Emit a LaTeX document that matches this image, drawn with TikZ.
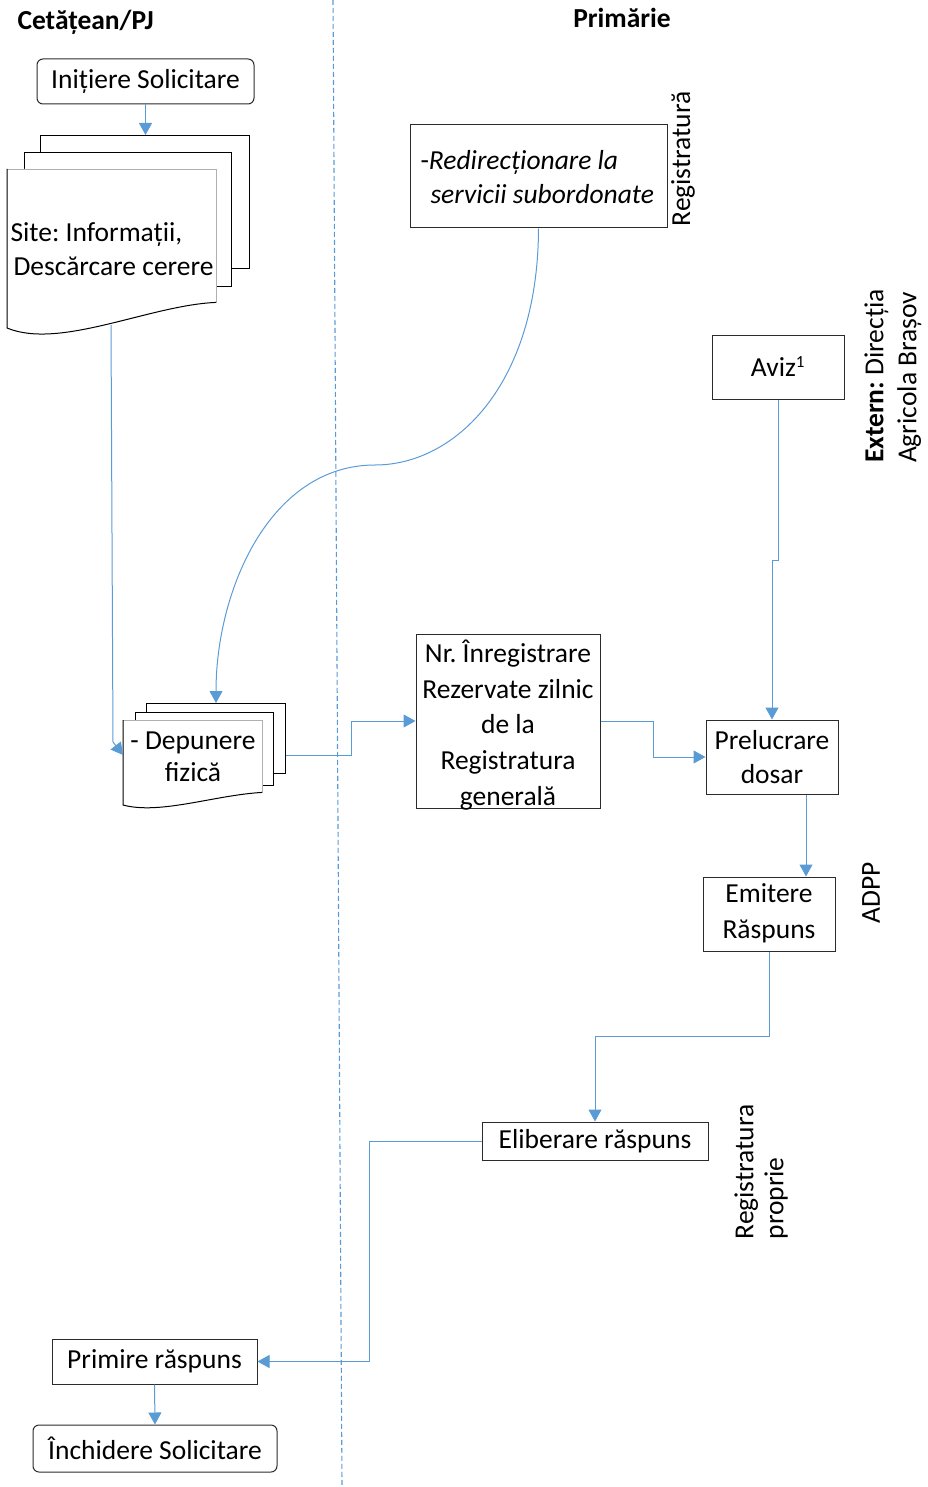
\documentclass[tikz,border=0pt]{standalone}
\usepackage{fontspec}
\setmainfont{Carlito}
\frenchspacing
\usetikzlibrary{arrows.meta,calc}
\definecolor{flow}{HTML}{5B9BD5}
\definecolor{edge}{HTML}{2B2B2B}
\definecolor{softedge}{HTML}{B0B0B0}

\begin{document}
\begin{tikzpicture}[x=1pt,y=-1pt,
  txt/.style={font=\fontsize{27.5}{36}\selectfont, align=center},
  box/.style={draw=edge, line width=1pt, fill=white, inner sep=0pt},
  rbox/.style={box, rounded corners=6pt},
  page/.style={draw=black, line width=1pt, fill=white, inner sep=0pt, anchor=north west},
  link/.style={draw=flow, line width=1pt},
  flowarrow/.style={link, -{Triangle[length=12pt,width=13pt]}},
  lane/.style={font=\fontsize{27.5}{30}\selectfont\bfseries},
  side/.style={font=\fontsize{27.5}{33}\selectfont, rotate=90, align=left}
]
\useasboundingbox (0,0) rectangle (928,1487);

% lane titles and the dashed lane divider
\node[lane, anchor=west] (citizen) at (14,22) {Cetățean/PJ};
\node[lane] (townhall) at (622,18) {Primărie};
\coordinate (laneTop) at (333,0);
\coordinate (laneBottom) at (342,1485);
\draw[flow, line width=1.1pt, dash pattern=on 5pt off 3pt] (laneTop) -- (laneBottom);

% start
\node[rbox, minimum width=217pt, minimum height=45pt] (start) at (145.5,81.5) {};
\node[txt] (startText) at (start) {Inițiere Solicitare};

% stacked documents: site information
\node[page, minimum width=209pt, minimum height=133pt] (siteBack) at (40,135) {};
\node[page, minimum width=207pt, minimum height=134pt] (siteMid) at (24,152) {};
\node[inner sep=0pt, minimum width=209pt, minimum height=133pt, anchor=north west] (site) at (7,169) {};
\fill[white] (site.north west) -- (site.north east) -- (site.south east)
  .. controls (150,305) and (60,350) .. (7,328) -- cycle;
\draw[softedge, line width=0.8pt] (site.south east) -- (site.north east) -- (site.north west);
\draw[black, line width=1pt] (site.north west) -- (7,328)
  .. controls (60,350) and (150,305) .. (site.south east);
\node[txt, align=left, anchor=west, font=\fontsize{27.5}{34}\selectfont] (siteText) at (7,249)
  {Site: Informații,\\ \hspace*{3pt}Descărcare cerere};
\coordinate (siteFoot) at (111,325);

% stacked documents: physical submission
\node[page, minimum width=139pt, minimum height=70pt] (depBack) at (146,703) {};
\node[page, minimum width=138pt, minimum height=73pt] (depMid) at (135,712) {};
\node[inner sep=0pt, minimum width=139pt, minimum height=72pt, anchor=north west] (dep) at (123,720) {};
\fill[white] (dep.north west) -- (dep.north east) -- (dep.south east)
  .. controls (215,795) and (160,815) .. (123,805) -- cycle;
\draw[softedge, line width=0.8pt] (dep.south east) -- (dep.north east) -- (dep.north west);
\draw[black, line width=1pt] (dep.north west) -- (123,805)
  .. controls (160,815) and (215,795) .. (dep.south east);
\node[txt, font=\fontsize{27.5}{32}\selectfont] (depText) at (193,757) {- Depunere\\ fizică};

% redirection
\node[box, minimum width=257pt, minimum height=103pt] (redir) at (538.5,176.5) {};
\node[txt, align=left, anchor=west, font=\fontsize{27.5}{34}\selectfont] (redirText) at (417,177)
  {-\textit{Redirecționare la}\\ \hspace*{10pt}\textit{servicii subordonate}};
\node[side] (registry) at (683,159) {Registratură};

% external approval
\node[box, minimum width=132pt, minimum height=64pt] (aviz) at (778,367) {};
\node[txt] (avizText) at (aviz) {Aviz\textsuperscript{\fontsize{17}{17}\selectfont 1}};
\node[side] (extern) at (893,376) {\textbf{Extern:} Direcția\\ Agricola Brașov};

% registration number
\node[box, minimum width=184pt, minimum height=174pt] (nr) at (508,721) {};
\node[txt, font=\fontsize{27.5}{35.7}\selectfont] (nrText) at (508,725)
  {Nr. Înregistrare\\ Rezervate zilnic\\ de la\\ Registratura\\ generală};

% processing
\node[box, minimum width=132pt, minimum height=74pt] (prel) at (772,757) {};
\node[txt, font=\fontsize{27.5}{34}\selectfont] (prelText) at (772,757) {Prelucrare\\ dosar};

% issuing the answer
\node[box, minimum width=132pt, minimum height=74pt] (emit) at (769,914) {};
\node[txt] (emitText) at (769,913) {Emitere\\ Răspuns};
\node[side] (adpp) at (871,893) {ADPP};

% delivery
\node[box, minimum width=226pt, minimum height=38pt] (elib) at (595,1141) {};
\node[txt] (elibText) at (elib) {Eliberare răspuns};
\node[side, font=\fontsize{27.5}{30}\selectfont] (ownRegistry) at (761,1172) {Registratura\\ proprie};

% receipt and closing
\node[box, minimum width=205pt, minimum height=45pt] (receive) at (154.5,1361.5) {};
\node[txt] (receiveText) at (receive) {Primire răspuns};
\node[rbox, minimum width=244pt, minimum height=47pt] (close) at (155,1448.5) {};
\node[txt] (closeText) at (close) {Închidere Solicitare};

% connectors
\draw[flowarrow] (start.south) -- (start.south |- siteBack.north);
\draw[flowarrow] (siteFoot) -- (113,742) -- ($(dep.north west)+(0,35)$);
\coordinate (swing) at (375,465);
\draw[flowarrow] (redir.south) .. controls (538,385) and (455,465) .. (swing)
  .. controls (270,465) and (216,590) .. (depBack.north);
\draw[flowarrow] ($(depBack.east)+(0,17)$) -- ++(65,0) |- (nr.west);
\draw[flowarrow] (nr.east) -- ++(53,0) |- (prel.west);
\draw[flowarrow] (aviz.south) -- ++(0,161) -| (prel.north);
\coordinate (prelFoot) at ($(prel.south)+(34,0)$);
\draw[flowarrow] (prelFoot) -- (prelFoot |- emit.north);
\draw[flowarrow] (emit.south) -- ++(0,85) -| (elib.north);
\draw[flowarrow] (elib.west) -- ++(-112,0) |- (receive.east);
\draw[flowarrow] (receive.south) -- (close.north);
\end{tikzpicture}
\end{document}
